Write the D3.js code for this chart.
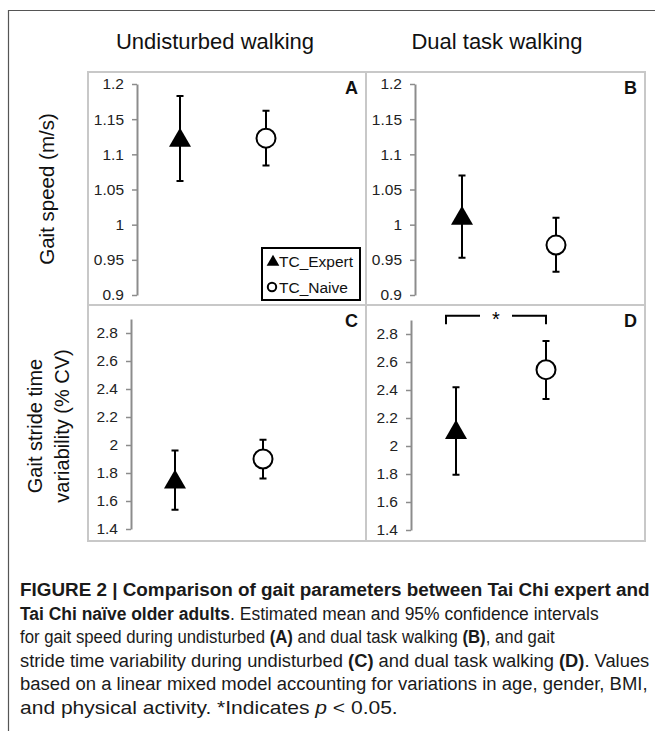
<!DOCTYPE html>
<html>
<head>
<meta charset="utf-8">
<script src="https://cdn.jsdelivr.net/npm/d3@7"></script>
<style>
  body { margin: 0; background: #fff; }
  text { font-family: "Liberation Sans", Arial, sans-serif; }
</style>
</head>
<body>
<div id="chart"></div>
<script>
// data
const groups = ["TC_Expert", "TC_Naive"];
const conditions = ["Undisturbed walking", "Dual task walking"];
// [condition][group]
const speedMean = [[1.122, 1.123], [1.011, 0.971]];
const speedLow  = [[1.062, 1.084], [0.953, 0.933]];
const speedHigh = [[1.183, 1.162], [1.070, 1.010]];
const cvMean = [[1.745, 1.900], [2.107, 2.545]];
const cvLow  = [[1.538, 1.760], [1.795, 2.336]];
const cvHigh = [[1.960, 2.038], [2.419, 2.750]];
const speedTicks = [0.9, 0.95, 1, 1.05, 1.1, 1.15, 1.2];
const cvTicks = [1.4, 1.6, 1.8, 2, 2.2, 2.4, 2.6, 2.8];

const width = 655, height = 731;

const svg = d3.select("#chart")
  .append("svg")
    .attr("width", width)
    .attr("height", height)
    .attr("viewBox", [0, 0, width, height].join(" "));

svg.append("rect").attr("width", width).attr("height", height).attr("fill", "#fff");

// outer frame (open on right and bottom)
svg.append("path")
  .attr("d", "M8.5," + height + "V10.5H" + width)
  .attr("fill", "none")
  .attr("stroke", "#555")
  .attr("stroke-width", 1.2);

// column titles
svg.selectAll(".coltitle")
  .data(conditions)
  .enter().append("text")
    .attr("class", "coltitle")
    .attr("x", (d, i) => i === 0 ? 215 : 497)
    .attr("y", 49)
    .attr("text-anchor", "middle")
    .attr("font-size", 22)
    .attr("fill", "#111")
    .text(d => d);

// row titles
svg.append("text")
  .attr("transform", "translate(54,189) rotate(-90)")
  .attr("text-anchor", "middle")
  .attr("font-size", 20.5)
  .attr("fill", "#111")
  .text("Gait speed (m/s)");

const rowTitle2 = svg.append("text")
  .attr("transform", "translate(0,426) rotate(-90)")
  .attr("text-anchor", "middle")
  .attr("font-size", 20)
  .attr("fill", "#111");
rowTitle2.append("tspan").attr("x", 0).attr("y", 42).text("Gait stride time");
rowTitle2.append("tspan").attr("x", 0).attr("y", 69).text("variability (% CV)");

// panel layout
const panels = [
  {key: "A", row: 0, col: 0, x0: 88,  x1: 366, y0: 72,  y1: 305, axisX: 137, plotW: 172},
  {key: "B", row: 0, col: 1, x0: 366, x1: 645, y0: 72,  y1: 305, axisX: 415, plotW: 188},
  {key: "C", row: 1, col: 0, x0: 88,  x1: 366, y0: 305, y1: 541, axisX: 131, plotW: 176},
  {key: "D", row: 1, col: 1, x0: 366, x1: 645, y0: 305, y1: 541, axisX: 411, plotW: 180}
];

const ySpeed = d3.scaleLinear().domain([0.9, 1.2]).range([295, 84]);
const yCvC = d3.scaleLinear().domain([1.4, 2.9]).range([529, 319]);
const yCvD = d3.scaleLinear().domain([1.4, 2.9]).range([530, 320]);

const triangle = d3.symbol().type(d3.symbolTriangle);

panels.forEach(p => {
  const y = p.row === 0 ? ySpeed : (p.key === "C" ? yCvC : yCvD);
  const ticks = p.row === 0 ? speedTicks : cvTicks;
  const mean = (p.row === 0 ? speedMean : cvMean)[p.col];
  const low  = (p.row === 0 ? speedLow : cvLow)[p.col];
  const high = (p.row === 0 ? speedHigh : cvHigh)[p.col];

  const x = d3.scalePoint().domain(groups).range([p.axisX, p.axisX + p.plotW]).padding(0.5);

  // panel frame
  svg.append("rect")
    .attr("x", p.x0).attr("y", p.y0)
    .attr("width", p.x1 - p.x0).attr("height", p.y1 - p.y0)
    .attr("fill", "none")
    .attr("stroke", "#c8c8c8")
    .attr("stroke-width", 2);

  // y axis
  const ax = svg.append("g")
    .attr("transform", "translate(" + p.axisX + ",0)")
    .call(d3.axisLeft(y).tickValues(ticks).tickFormat(d => d).tickSize(5).tickSizeOuter(0).tickPadding(8));
  ax.select(".domain").attr("stroke", "#8c8c8c").attr("stroke-width", 2);
  ax.selectAll(".tick line").attr("stroke", "#8c8c8c").attr("stroke-width", 1.5);
  ax.selectAll(".tick text").attr("font-size", 15.5).attr("fill", "#222")
    .style("font-family", "'Liberation Sans', Arial, sans-serif");

  // panel letter
  svg.append("text")
    .attr("x", p.x1 - 8)
    .attr("y", p.y0 + 22)
    .attr("text-anchor", "end")
    .attr("font-size", 18)
    .attr("font-weight", "bold")
    .attr("fill", "#111")
    .text(p.key);

  const g = svg.append("g");
  const rows = groups.map((grp, i) => ({grp: grp, mean: mean[i], low: low[i], high: high[i]}));

  // error bars
  g.selectAll(".err")
    .data(rows)
    .enter().append("path")
      .attr("d", d => {
        const cx = x(d.grp), c = 3.5;
        return "M" + cx + "," + y(d.high) + "V" + y(d.low) +
               "M" + (cx - c) + "," + y(d.high) + "H" + (cx + c) +
               "M" + (cx - c) + "," + y(d.low) + "H" + (cx + c);
      })
      .attr("fill", "none")
      .attr("stroke", "#000")
      .attr("stroke-width", 2);

  // expert: filled triangle
  g.append("path")
    .datum(rows[0])
    .attr("d", triangle.size(210)())
    .attr("transform", d => "translate(" + x(d.grp) + "," + (y(d.mean) + 1.5) + ")")
    .attr("fill", "#000");

  // naive: open circle
  g.append("circle")
    .datum(rows[1])
    .attr("cx", d => x(d.grp))
    .attr("cy", d => y(d.mean))
    .attr("r", 9.5)
    .attr("fill", "#fff")
    .attr("stroke", "#000")
    .attr("stroke-width", 2);

  // legend in panel A
  if (p.key === "A") {
    const lg = svg.append("g").attr("class", "legend");
    lg.append("rect")
      .attr("x", 262).attr("y", 248)
      .attr("width", 98).attr("height", 52)
      .attr("fill", "#fff")
      .attr("stroke", "#000")
      .attr("stroke-width", 2);
    const items = lg.selectAll(".item")
      .data(groups)
      .enter().append("g")
        .attr("class", "item")
        .attr("transform", (d, i) => "translate(272," + (261 + i * 26) + ")");
    items.filter((d, i) => i === 0).append("path")
      .attr("d", d3.symbol().type(d3.symbolTriangle).size(70)())
      .attr("transform", "translate(1,1)")
      .attr("fill", "#000");
    items.filter((d, i) => i === 1).append("circle")
      .attr("r", 4.2)
      .attr("fill", "#fff")
      .attr("stroke", "#000")
      .attr("stroke-width", 2);
    items.append("text")
      .attr("x", 7)
      .attr("y", 6)
      .attr("font-size", 15.5)
      .attr("fill", "#111")
      .text(d => d);
  }

  // significance bracket in panel D
  if (p.key === "D") {
    const xl = x(groups[0]) - 10, xr = x(groups[1]);
    const yb = y(2.93), yt = y(2.87);
    const xm = (xl + xr) / 2;
    svg.append("path")
      .attr("d", "M" + xl + "," + yt + "V" + yb + "H" + (xm - 16) +
                 "M" + (xm + 16) + "," + yb + "H" + xr + "V" + yt)
      .attr("fill", "none")
      .attr("stroke", "#000")
      .attr("stroke-width", 2);
    svg.append("text")
      .attr("x", xm)
      .attr("y", yb + 10)
      .attr("text-anchor", "middle")
      .attr("font-size", 20)
      .attr("fill", "#000")
      .text("*");
  }
});

// caption
const caption = [
  [["FIGURE 2 | Comparison of gait parameters between Tai Chi expert and", "b"]],
  [["Tai Chi naïve older adults", "b"], [". Estimated mean and 95% confidence intervals", ""]],
  [["for gait speed during undisturbed ", ""], ["(A)", "b"], [" and dual task walking ", ""], ["(B)", "b"], [", and gait", ""]],
  [["stride time variability during undisturbed ", ""], ["(C)", "b"], [" and dual task walking ", ""], ["(D)", "b"], [". Values", ""]],
  [["based on a linear mixed model accounting for variations in age, gender, BMI,", ""]],
  [["and physical activity. *Indicates ", ""], ["p", "i"], [" < 0.05.", ""]]
];
const captionWidths = [630, 579, 535, 630, 628, 378];

caption.forEach((line, i) => {
  const gy = 596 + i * 23.5;
  const lineG = svg.append("g").attr("transform", "translate(20," + gy + ")");
  const t = lineG.append("text")
    .attr("x", 0)
    .attr("y", 0)
    .attr("font-size", 19)
    .attr("fill", "#1a1a1a");
  line.forEach(seg => {
    t.append("tspan")
      .attr("font-weight", seg[1] === "b" ? "bold" : null)
      .attr("font-style", seg[1] === "i" ? "italic" : null)
      .text(seg[0]);
  });
  const natural = t.node().getComputedTextLength();
  lineG.attr("transform", "translate(20," + gy + ") scale(" + (captionWidths[i] / natural) + ",1)");
});
</script>
</body>
</html>
